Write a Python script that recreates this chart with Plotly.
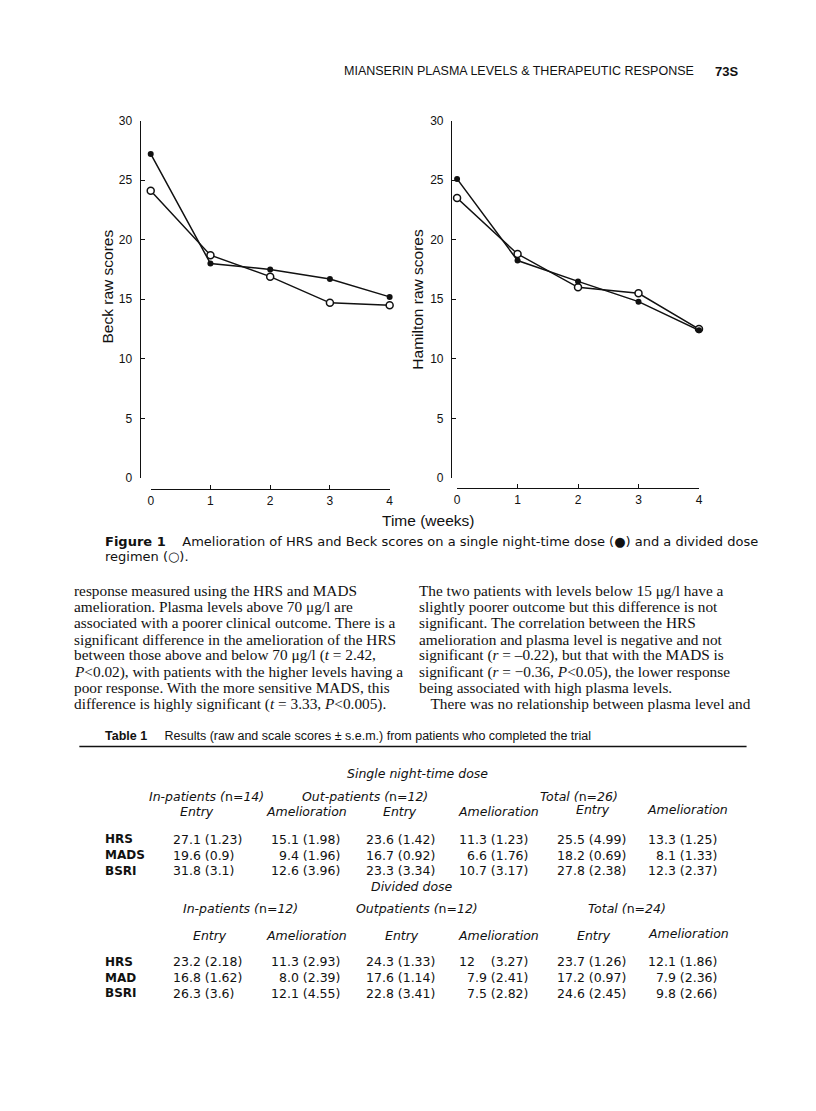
import plotly.graph_objects as go

W, H = 816, 1111

# ---------------- data ----------------
weeks = [0, 1, 2, 3, 4]
beck_single = [27.2, 18.0, 17.5, 16.7, 15.2]
beck_divided = [24.1, 18.7, 16.9, 14.7, 14.5]
ham_single = [25.1, 18.25, 16.5, 14.8, 12.4]
ham_divided = [23.5, 18.8, 16.0, 15.5, 12.5]
y_ticks = [0, 5, 10, 15, 20, 25, 30]

single_rows = ["HRS", "MADS", "BSRI"]
single_in_entry = ["27.1 (1.23)", "19.6 (0.9)", "31.8 (3.1)"]
single_in_amel = ["15.1 (1.98)", "9.4 (1.96)", "12.6 (3.96)"]
single_out_entry = ["23.6 (1.42)", "16.7 (0.92)", "23.3 (3.34)"]
single_out_amel = ["11.3 (1.23)", "6.6 (1.76)", "10.7 (3.17)"]
single_tot_entry = ["25.5 (4.99)", "18.2 (0.69)", "27.8 (2.38)"]
single_tot_amel = ["13.3 (1.25)", "8.1 (1.33)", "12.3 (2.37)"]

divided_rows = ["HRS", "MAD", "BSRI"]
div_in_entry = ["23.2 (2.18)", "16.8 (1.62)", "26.3 (3.6)"]
div_in_amel = ["11.3 (2.93)", "8.0 (2.39)", "12.1 (4.55)"]
div_out_entry = ["24.3 (1.33)", "17.6 (1.14)", "22.8 (3.41)"]
div_out_amel = ["12&nbsp;&nbsp;&nbsp;&nbsp;(3.27)", "7.9 (2.41)", "7.5 (2.82)"]
div_tot_entry = ["23.7 (1.26)", "17.2 (0.97)", "24.6 (2.45)"]
div_tot_amel = ["12.1 (1.86)", "7.9 (2.36)", "9.8 (2.66)"]

body_left = [
    "response measured using the HRS and MADS",
    "amelioration. Plasma levels above 70 μg/l are",
    "associated with a poorer clinical outcome. There is a",
    "significant difference in the amelioration of the HRS",
    "between those above and below 70 μg/l (<i>t</i> = 2.42,",
    "<i>P</i>&lt;0.02), with patients with the higher levels having a",
    "poor response. With the more sensitive MADS, this",
    "difference is highly significant (<i>t</i> = 3.33, <i>P</i>&lt;0.005).",
]
body_right = [
    "The two patients with levels below 15 μg/l have a",
    "slightly poorer outcome but this difference is not",
    "significant. The correlation between the HRS",
    "amelioration and plasma level is negative and not",
    "significant (<i>r</i> = –0.22), but that with the MADS is",
    "significant (<i>r</i> = −0.36, <i>P</i>&lt;0.05), the lower response",
    "being associated with high plasma levels.",
    "&nbsp;&nbsp;&nbsp;There was no relationship between plasma level and",
]

# ---------------- helpers ----------------
def px(x):
    return x / W

def py(y):
    return 1 - y / H

SANS = "Liberation Sans, Arial, Helvetica, sans-serif"
WIDE = "DejaVu Sans, Verdana, sans-serif"
SERIF = "Liberation Serif, Times New Roman, serif"

annotations = []
PAD = 3  # annotation inner padding

def text(x, y, s, size=12, family=SANS, xanchor="left", angle=0, color="#111"):
    if xanchor == "left":
        x -= PAD
    elif xanchor == "right":
        x += PAD
    annotations.append(dict(
        x=px(x), y=py(y), xref="paper", yref="paper", text=s, showarrow=False,
        xanchor=xanchor, yanchor="middle", textangle=angle,
        font=dict(family=family, size=size, color=color),
    ))

fig = go.Figure()

line_style = dict(color="#111", width=1.5)
for xa, ya, s1, s2 in [("x", "y", beck_single, beck_divided), ("x2", "y2", ham_single, ham_divided)]:
    fig.add_trace(go.Scatter(
        x=weeks, y=s2, xaxis=xa, yaxis=ya, mode="lines+markers", cliponaxis=False,
        line=line_style,
        marker=dict(symbol="circle", size=7, color="white", line=dict(color="#111", width=1.5)),
        showlegend=False, name="Divided dose",
    ))
    fig.add_trace(go.Scatter(
        x=weeks, y=s1, xaxis=xa, yaxis=ya, mode="lines+markers", cliponaxis=False,
        line=line_style,
        marker=dict(symbol="circle", size=6, color="#111"),
        showlegend=False, name="Single night-time dose",
    ))

tickfont = dict(family=SANS, size=12, color="#111")
ydom = [py(477), py(115)]

def xaxis_cfg(x0, x1, ypos):
    return dict(domain=[px(x0), px(x1)], range=[0, 4], anchor="free", position=py(ypos),
                showline=True, linecolor="#111", linewidth=1.4, ticks="inside", ticklen=4,
                tickwidth=1.3, tickcolor="#111", tickvals=weeks, showgrid=False,
                zeroline=False, tickfont=tickfont, fixedrange=True, ticklabelstandoff=1)

def yaxis_cfg(xpos):
    return dict(domain=ydom, range=[0, 30], anchor="free", position=px(xpos),
                showline=True, linecolor="#111", linewidth=1.4, ticks="inside", ticklen=4,
                tickwidth=1.3, tickcolor="#111", tickvals=y_ticks, showgrid=False,
                zeroline=False, tickfont=tickfont, fixedrange=True, ticklabelstandoff=5)

fig.update_layout(
    width=W, height=H, margin=dict(l=0, r=0, t=0, b=0),
    paper_bgcolor="white", plot_bgcolor="white", showlegend=False,
    xaxis=xaxis_cfg(149, 390, 488),
    yaxis=yaxis_cfg(138),
    xaxis2=xaxis_cfg(458, 702, 487),
    yaxis2=yaxis_cfg(452),
)

# header
text(345, 65, "MIANSERIN PLASMA LEVELS &amp; THERAPEUTIC RESPONSE", size=12.5)
text(719, 65, "<b>73S</b>", size=13)

# axis titles
text(105, 283, "Beck raw scores", size=15.5, angle=-90, xanchor="center")
text(418, 296, "Hamilton raw scores", size=15.5, angle=-90, xanchor="center")
text(429, 520, "Time (weeks)", size=15.5, xanchor="center")

# caption
CS = 13
text(104, 541, "<b>Figure 1</b>&nbsp;&nbsp;&nbsp;&nbsp;Amelioration of HRS and Beck scores on a single night-time dose (●) and a divided dose", size=CS, family=WIDE)
text(104, 557, "regimen (○).", size=CS, family=WIDE)

# body
BS = 15.3
for i, s in enumerate(body_left):
    text(73, 591 + i * 16.4, s, size=BS, family=SERIF)
for i, s in enumerate(body_right):
    text(421, 591 + i * 16.4, s, size=BS, family=SERIF)

# table title + rule
text(104, 738, "<b>Table 1</b>&nbsp;&nbsp;&nbsp;&nbsp;&nbsp;Results (raw and scale scores ± s.e.m.) from patients who completed the trial", size=12.5, family=SANS)
fig.add_shape(type="line", xref="paper", yref="paper", x0=px(77), x1=px(750), y0=py(749), y1=py(749),
              line=dict(color="#111", width=1.5))

TS = 12.5
# single night-time dose
text(418, 776, "<i>Single night-time dose</i>", size=TS, family=WIDE, xanchor="center")
text(148, 800, "<i>In-patients (</i>n<i>=14)</i>", size=TS, family=WIDE)
text(303, 800, "<i>Out-patients (</i>n<i>=12)</i>", size=TS, family=WIDE)
text(543, 800, "<i>Total (</i>n<i>=26)</i>", size=TS, family=WIDE)
for xc, yy, s in [(196, 815, "Entry"), (306, 815, "Amelioration"), (400, 815, "Entry"),
                  (500, 815, "Amelioration"), (595, 813, "Entry"), (690, 813, "Amelioration")]:
    text(xc, yy, f"<i>{s}</i>", size=TS, family=WIDE, xanchor="center")

def table_rows(y0, labels, cols):
    for r, lab in enumerate(labels):
        yy = y0 + r * 16
        text(104, yy, f"<b>{lab}</b>", size=TS - 0.5, family=WIDE)
        for (xx, anc), vals in zip([(172, "left"), (339, "right"), (367, "left"),
                                    (529, "right"), (560, "left"), (719, "right")], cols):
            text(xx, yy, vals[r], size=TS, family=WIDE, xanchor=anc)

table_rows(843, single_rows, [single_in_entry, single_in_amel, single_out_entry,
                              single_out_amel, single_tot_entry, single_tot_amel])

# divided dose
text(413, 891, "<i>Divided dose</i>", size=TS, family=WIDE, xanchor="center")
text(183, 913, "<i>In-patients (</i>n<i>=12)</i>", size=TS, family=WIDE)
text(357, 913, "<i>Outpatients (</i>n<i>=12)</i>", size=TS, family=WIDE)
text(591, 913, "<i>Total (</i>n<i>=24)</i>", size=TS, family=WIDE)
for xc, yy, s in [(209, 940, "Entry"), (306, 940, "Amelioration"), (402, 940, "Entry"),
                  (500, 940, "Amelioration"), (596, 940, "Entry"), (691, 938, "Amelioration")]:
    text(xc, yy, f"<i>{s}</i>", size=TS, family=WIDE, xanchor="center")

table_rows(967, divided_rows, [div_in_entry, div_in_amel, div_out_entry,
                               div_out_amel, div_tot_entry, div_tot_amel])

fig.update_layout(annotations=annotations)
fig.write_html("out.html", config={"displayModeBar": False},
               post_script="document.body.style.margin='0px';")
